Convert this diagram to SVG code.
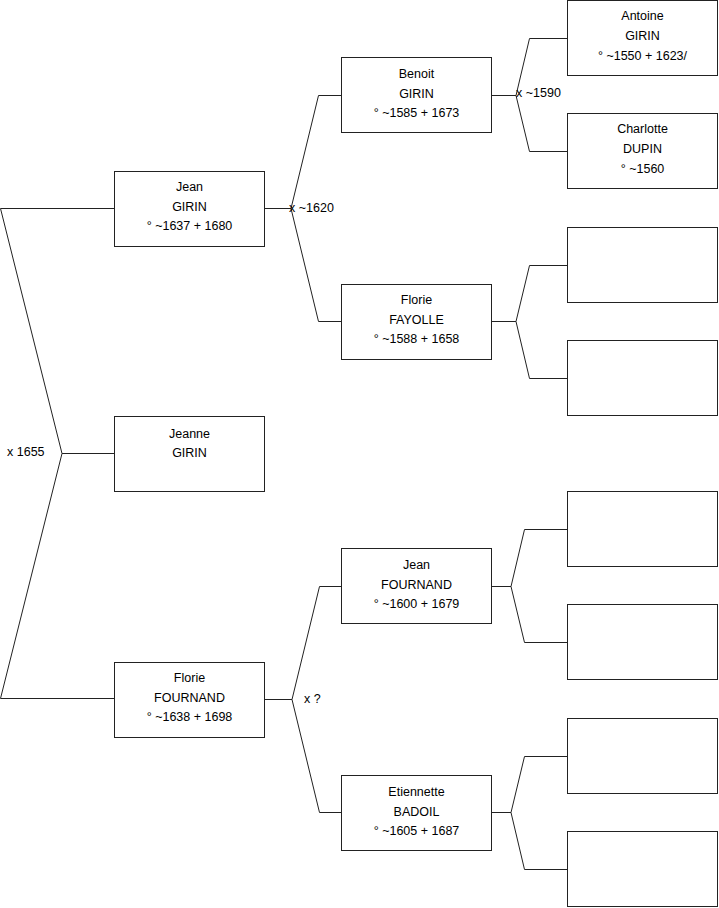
<svg xmlns="http://www.w3.org/2000/svg" width="719" height="908" viewBox="0 0 719 908">
<style>
rect.b{fill:#fff;stroke:#222;stroke-width:1}
text{font-family:"Liberation Sans",Arial,sans-serif;font-size:12.5px;fill:#000}
.c{text-anchor:middle}
#connectors path{fill:none;stroke:#222;stroke-width:1}
</style>
<rect width="719" height="908" fill="#fff"/>
<g id="connectors">
<path d="M0.5,208.5H114M0.5,208.5L62,453.5L0.5,698.5H114M62,453.5H114"/>
<path d="M265,208.5H291M291,208.5L318.5,95.5H341M291,208.5L318.5,321.5H341"/>
<path d="M265,699.5H292M292,699.5L319.5,586.5H341M292,699.5L319.5,812.5H341"/>
<path d="M492,95.5H516M516,95.5L529.5,38.5H567M516,95.5L529.5,151.5H567"/>
<path d="M492,321.5H516M516,321.5L529.5,265.5H567M516,321.5L529.5,378.5H567"/>
<path d="M492,586.5H511M511,586.5L524.5,529.5H567M511,586.5L524.5,642.5H567"/>
<path d="M492,812.5H511M511,812.5L524.5,756.5H567M511,812.5L524.5,869.5H567"/>
<text x="7" y="456">x 1655</text>
<text x="289" y="212">x ~1620</text>
<text x="516" y="97">x ~1590</text>
<text x="304" y="703">x ?</text>
</g>
<g id="jean-girin"><rect class="b" x="114.5" y="171.5" width="150" height="75"/>
<text class="c" x="189.5" y="191">Jean</text><text class="c" x="189.5" y="211">GIRIN</text><text class="c" x="189.5" y="230">° ~1637 + 1680</text></g>
<g id="jeanne-girin"><rect class="b" x="114.5" y="416.5" width="150" height="75"/>
<text class="c" x="189.5" y="438">Jeanne</text><text class="c" x="189.5" y="457">GIRIN</text></g>
<g id="florie-fournand"><rect class="b" x="114.5" y="662.5" width="150" height="75"/>
<text class="c" x="189.5" y="682">Florie</text><text class="c" x="189.5" y="702">FOURNAND</text><text class="c" x="189.5" y="721">° ~1638 + 1698</text></g>
<g id="benoit-girin"><rect class="b" x="341.5" y="57.5" width="150" height="75"/>
<text class="c" x="416.5" y="78">Benoit</text><text class="c" x="416.5" y="98">GIRIN</text><text class="c" x="416.5" y="117">° ~1585 + 1673</text></g>
<g id="florie-fayolle"><rect class="b" x="341.5" y="284.5" width="150" height="75"/>
<text class="c" x="416.5" y="304">Florie</text><text class="c" x="416.5" y="324">FAYOLLE</text><text class="c" x="416.5" y="343">° ~1588 + 1658</text></g>
<g id="jean-fournand"><rect class="b" x="341.5" y="548.5" width="150" height="75"/>
<text class="c" x="416.5" y="569">Jean</text><text class="c" x="416.5" y="589">FOURNAND</text><text class="c" x="416.5" y="608">° ~1600 + 1679</text></g>
<g id="etiennette-badoil"><rect class="b" x="341.5" y="775.5" width="150" height="75"/>
<text class="c" x="416.5" y="796">Etiennette</text><text class="c" x="416.5" y="816">BADOIL</text><text class="c" x="416.5" y="835">° ~1605 + 1687</text></g>
<g id="antoine-girin"><rect class="b" x="567.5" y="0.5" width="150" height="75"/>
<text class="c" x="642.5" y="20">Antoine</text><text class="c" x="642.5" y="40">GIRIN</text><text class="c" x="642.5" y="60">° ~1550 + 1623/</text></g>
<g id="charlotte-dupin"><rect class="b" x="567.5" y="113.5" width="150" height="75"/>
<text class="c" x="642.5" y="133">Charlotte</text><text class="c" x="642.5" y="153">DUPIN</text><text class="c" x="642.5" y="173">° ~1560</text></g>
<g id="empty-1"><rect class="b" x="567.5" y="227.5" width="150" height="75"/></g>
<g id="empty-2"><rect class="b" x="567.5" y="340.5" width="150" height="75"/></g>
<g id="empty-3"><rect class="b" x="567.5" y="491.5" width="150" height="75"/></g>
<g id="empty-4"><rect class="b" x="567.5" y="604.5" width="150" height="75"/></g>
<g id="empty-5"><rect class="b" x="567.5" y="718.5" width="150" height="75"/></g>
<g id="empty-6"><rect class="b" x="567.5" y="831.5" width="150" height="75"/></g>
</svg>
